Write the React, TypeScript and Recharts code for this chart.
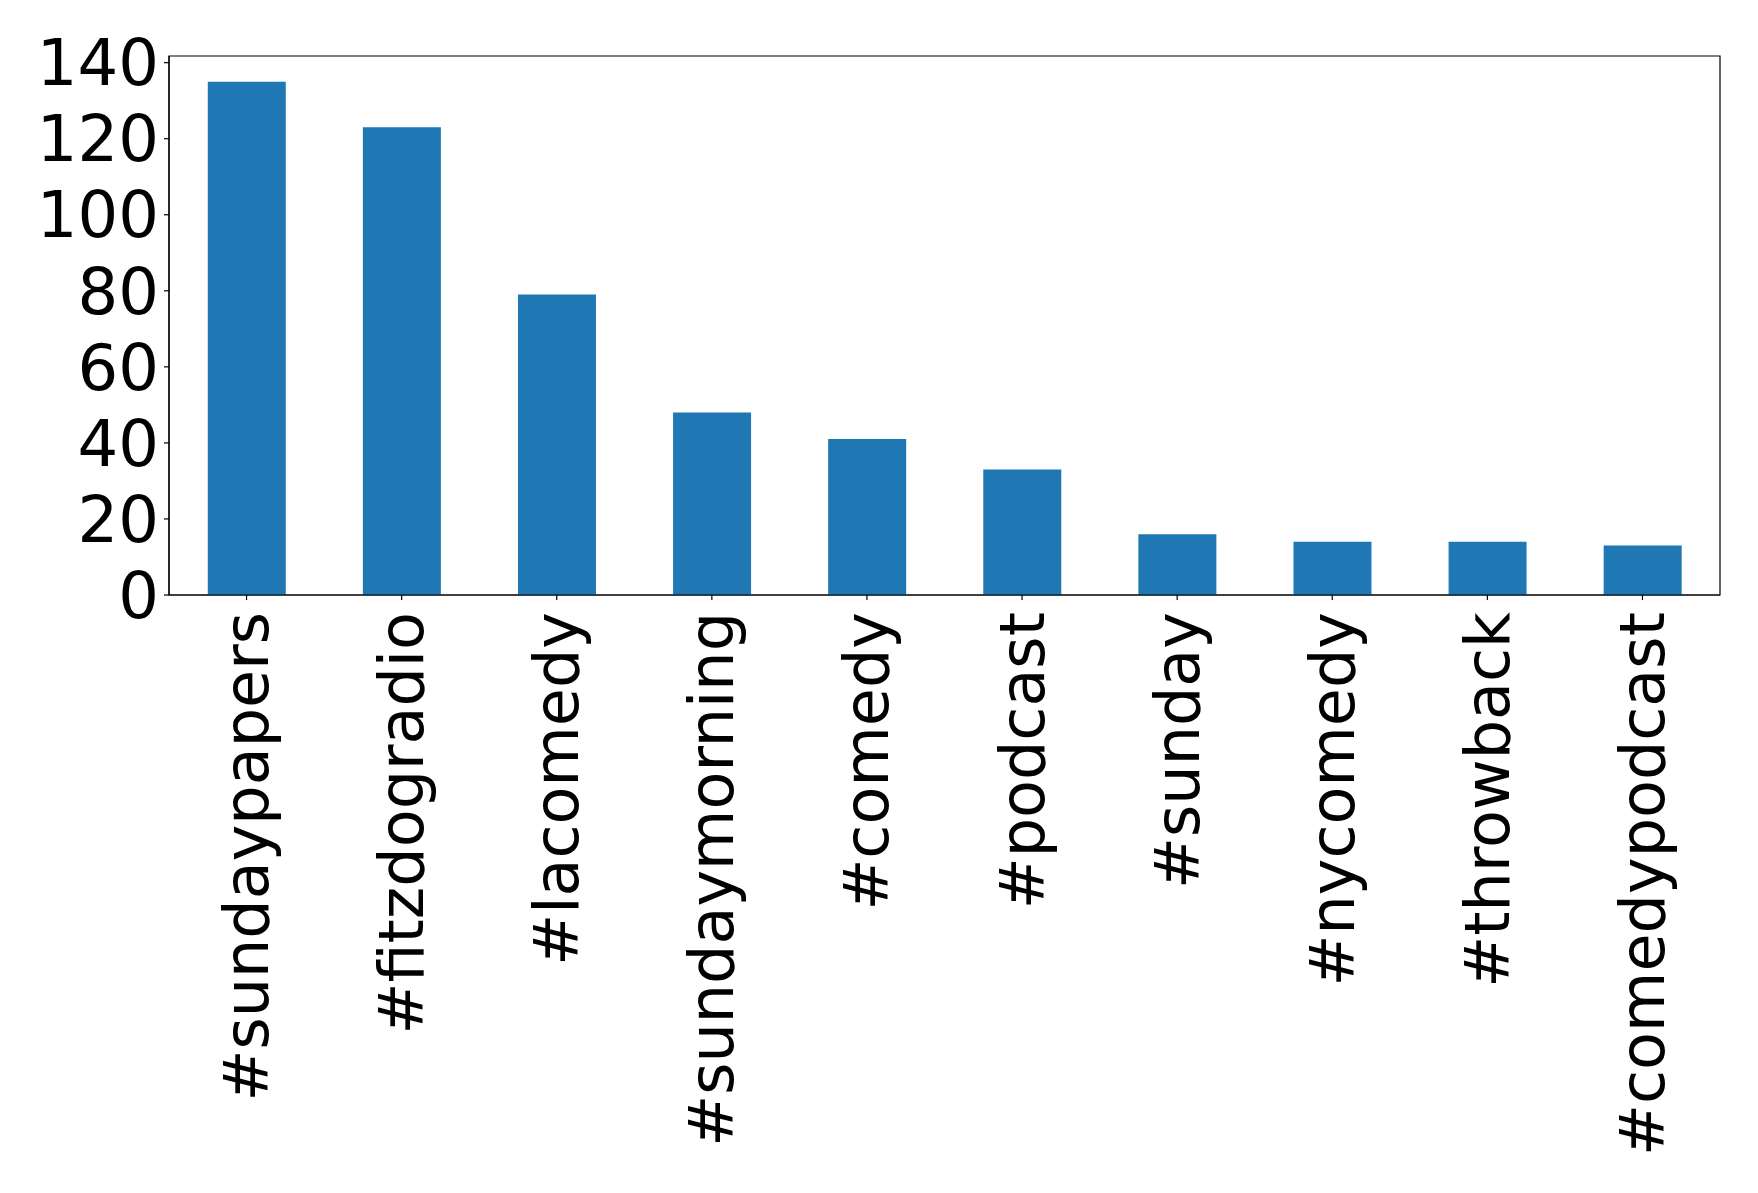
import { BarChart, Bar, XAxis, YAxis, ReferenceArea } from "recharts";

const hashtags = [
  "#sundaypapers",
  "#fitzdogradio",
  "#lacomedy",
  "#sundaymorning",
  "#comedy",
  "#podcast",
  "#sunday",
  "#nycomedy",
  "#throwback",
  "#comedypodcast",
];
const counts = [135, 123, 79, 48, 41, 33, 16, 14, 14, 13];
const yTicks = [0, 20, 40, 60, 80, 100, 120, 140];
const yMax = 141.75;

const FONT = "DejaVu Sans, sans-serif";

// rotated category label, reads bottom-to-top like matplotlib rotation=90
const RotatedTick = ({ x, y, payload }: any) => (
  <text
    x={x}
    y={y}
    transform={`rotate(-90, ${x}, ${y})`}
    textAnchor="end"
    dominantBaseline="central"
    fontSize={62}
    fontFamily={FONT}
    fill="#000"
  >
    {payload.value}
  </text>
);

export default function App() {
  const data = hashtags.map((tag, i) => ({ tag, count: counts[i] }));

  return (
    <div style={{ position: "absolute", left: 0, top: 0, background: "#fff" }}>
      <BarChart
        width={1758}
        height={1193}
        data={data}
        margin={{ top: 56, right: 38, left: 0, bottom: 0 }}
        barCategoryGap="25%"
      >
        <XAxis
          dataKey="tag"
          height={598}
          interval={0}
          axisLine={{ stroke: "#000", strokeWidth: 1.2 }}
          tickLine={{ stroke: "#000", strokeWidth: 1.2 }}
          tickSize={5}
          tickMargin={12}
          tick={<RotatedTick />}
        />
        <YAxis
          width={169}
          domain={[0, yMax]}
          ticks={yTicks}
          interval={0}
          axisLine={{ stroke: "#000", strokeWidth: 1.2 }}
          tickLine={{ stroke: "#000", strokeWidth: 1.2 }}
          tickSize={5}
          tickMargin={5}
          tick={{ fontSize: 64, fill: "#000", fontFamily: FONT }}
        />
        <Bar dataKey="count" fill="#1f77b4" isAnimationActive={false} />
        {/* axes frame */}
        <ReferenceArea
          x1={hashtags[0]}
          x2={hashtags[hashtags.length - 1]}
          y1={0}
          y2={yMax}
          fill="none"
          fillOpacity={0}
          stroke="#000"
          strokeWidth={1.2}
          strokeOpacity={1}
          ifOverflow="visible"
        />
      </BarChart>
    </div>
  );
}
